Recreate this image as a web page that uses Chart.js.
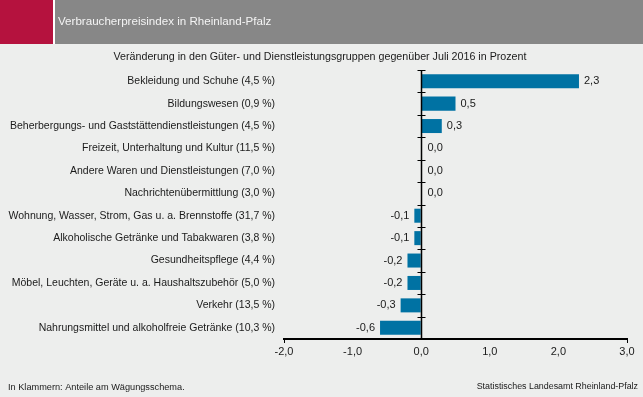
<!DOCTYPE html>
<html>
<head>
<meta charset="utf-8">
<title>Verbraucherpreisindex in Rheinland-Pfalz</title>
<script src="https://cdn.jsdelivr.net/npm/chart.js"></script>
<style>
  body { margin: 0; background: #edeeed; }
  #wrap { width: 643px; height: 397px; }
</style>
</head>
<body>
<div id="wrap"><canvas id="myChart" width="643" height="397"></canvas></div>
<script>
// Güter- und Dienstleistungsgruppen (Anteil am Wägungsschema)
const categories = [
    'Bekleidung und Schuhe (4,5 %)',
    'Bildungswesen (0,9 %)',
    'Beherbergungs- und Gaststättendienstleistungen (4,5 %)',
    'Freizeit, Unterhaltung und Kultur (11,5 %)',
    'Andere Waren und Dienstleistungen (7,0 %)',
    'Nachrichtenübermittlung (3,0 %)',
    'Wohnung, Wasser, Strom, Gas u. a. Brennstoffe (31,7 %)',
    'Alkoholische Getränke und Tabakwaren (3,8 %)',
    'Gesundheitspflege (4,4 %)',
    'Möbel, Leuchten, Geräte u. a. Haushaltszubehör (5,0 %)',
    'Verkehr (13,5 %)',
    'Nahrungsmittel und alkoholfreie Getränke (10,3 %)'
];
// Veränderung gegenüber Juli 2016 in Prozent
const values = [2.3, 0.5, 0.3, 0.0, 0.0, 0.0, -0.1, -0.1, -0.2, -0.2, -0.3, -0.6];
const xMin = -2, xMax = 3;

const titleText = 'Verbraucherpreisindex in Rheinland-Pfalz';
const subtitleText = 'Veränderung in den Güter- und Dienstleistungsgruppen gegenüber Juli 2016 in Prozent';
const noteText = 'In Klammern: Anteile am Wägungsschema.';
const sourceText = 'Statistisches Landesamt Rheinland-Pfalz';

const FONT = '"Liberation Sans", Arial, sans-serif';
const fmt = v => Number(v).toFixed(1).replace('.', ',');

// Rahmen, Kopfzeile, Nulllinie, Werte
const decor = {
    id: 'decor',
    beforeDraw(chart) {
        const c = chart.ctx;
        c.save();
        c.fillStyle = '#edeeed';
        c.fillRect(0, 0, chart.width, chart.height);
        c.fillStyle = '#b5123e';
        c.fillRect(0, 0, 53, 44);
        c.fillStyle = '#ffffff';
        c.fillRect(53, 0, 2, 44);
        c.fillStyle = '#878787';
        c.fillRect(55, 0, chart.width - 55, 44);
        c.fillStyle = '#f4f4f4';
        c.font = '11.6px ' + FONT;
        c.textBaseline = 'middle';
        c.fillText(titleText, 58, 22);
        c.fillStyle = '#1a1a1a';
        c.font = '10.7px ' + FONT;
        c.textAlign = 'center';
        c.fillText(subtitleText, 320, 57);
        c.font = '9.2px ' + FONT;
        c.textAlign = 'left';
        c.fillText(noteText, 8, 387);
        c.font = '8.9px ' + FONT;
        c.textAlign = 'right';
        c.fillText(sourceText, 638, 387);
        c.restore();
    },
    afterDraw(chart) {
        const c = chart.ctx;
        const xs = chart.scales.x;
        const area = chart.chartArea;
        const x0 = Math.round(xs.getPixelForValue(0)) + 0.5;
        const step = (area.bottom - area.top) / categories.length;
        c.save();
        c.strokeStyle = '#000';
        c.lineWidth = 1.5;
        c.beginPath();
        c.moveTo(x0, area.top);
        c.lineTo(x0, area.bottom);
        c.stroke();
        c.lineWidth = 1;
        for (let i = 0; i < categories.length; i++) {
            const y = Math.round(area.top + i * step) + 0.5;
            c.beginPath();
            c.moveTo(x0 - 4, y);
            c.lineTo(x0 + 4, y);
            c.stroke();
        }
        // Datenbeschriftung
        const meta = chart.getDatasetMeta(0);
        c.fillStyle = '#1a1a1a';
        c.font = '11px ' + FONT;
        c.textBaseline = 'middle';
        meta.data.forEach((bar, i) => {
            const v = values[i];
            if (v > 0) {
                c.textAlign = 'left';
                c.fillText(fmt(v), bar.x + 5, bar.y);
            } else if (v < 0) {
                c.textAlign = 'right';
                c.fillText(fmt(v), bar.x - 5, bar.y);
            } else {
                c.textAlign = 'left';
                c.fillText(fmt(v), x0 + 6, bar.y);
            }
        });
        c.restore();
    }
};

const ctx = document.getElementById('myChart').getContext('2d');
new Chart(ctx, {
    type: 'bar',
    data: {
        labels: categories,
        datasets: [{
            data: values,
            backgroundColor: '#0072a3',
            borderWidth: 0,
            barPercentage: 0.625,
            categoryPercentage: 1
        }]
    },
    options: {
        indexAxis: 'y',
        responsive: false,
        animation: false,
        layout: { padding: { top: 70, right: 16, left: 0, bottom: 0 } },
        plugins: {
            legend: { display: false },
            tooltip: { enabled: false }
        },
        scales: {
            x: {
                min: xMin,
                max: xMax,
                afterFit: s => { s.height = 58; },
                ticks: {
                    stepSize: 1,
                    padding: 2,
                    color: '#1a1a1a',
                    font: { family: FONT, size: 11 },
                    callback: v => fmt(v)
                },
                grid: {
                    drawOnChartArea: false,
                    drawTicks: true,
                    tickLength: 4,
                    color: c => (c.tick && (c.tick.value === xMin || c.tick.value === xMax)) ? '#000' : 'rgba(0,0,0,0)'
                },
                border: { display: true, color: '#000', width: 2 }
            },
            y: {
                afterFit: s => { s.width = 284; },
                grid: { display: false, drawTicks: false },
                border: { display: false },
                ticks: {
                    padding: 9,
                    color: '#1a1a1a',
                    font: { family: FONT, size: 10.5 },
                    autoSkip: false
                }
            }
        }
    },
    plugins: [decor]
});
</script>
</body>
</html>
